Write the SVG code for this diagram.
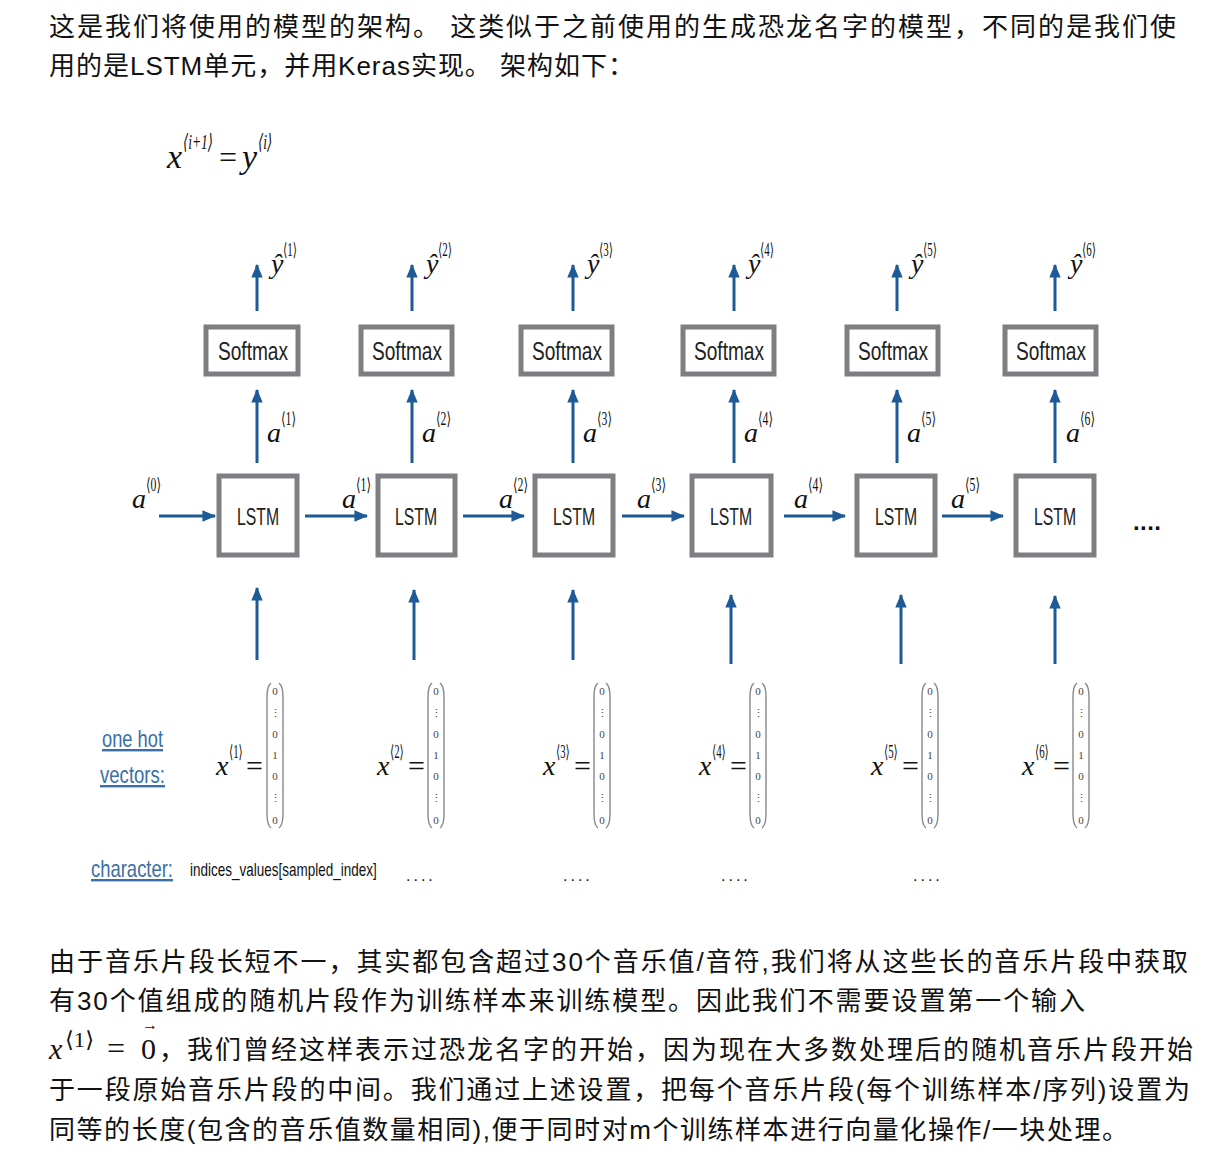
<svg xmlns="http://www.w3.org/2000/svg" width="1212" height="1166" viewBox="0 0 1212 1166">
<defs>
<marker id="ah" viewBox="0 0 12 10" refX="11" refY="5" markerWidth="4.6" markerHeight="3.8" orient="auto" markerUnits="strokeWidth">
<path d="M0,0 L12,5 L0,10 z" fill="#1d5a96"/>
</marker>
</defs>
<style>
.cn{font-family:"Liberation Sans","Noto Sans CJK SC",sans-serif;font-size:26px;fill:#111}
.box{fill:#fff;stroke:#7d7f82;stroke-width:5}
.lbl{font-family:"Liberation Sans",sans-serif;fill:#222}
.m{font-family:"Liberation Serif","DejaVu Serif",serif;font-style:italic;fill:#111}
.sup{font-family:"Liberation Serif","DejaVu Serif",serif;font-style:normal;fill:#111}
.ar{stroke:#1d5a96;stroke-width:3;fill:none;marker-end:url(#ah)}
.link{font-family:"Liberation Sans",sans-serif;fill:#3a6fa8;text-decoration:underline}
.vec{font-family:"Liberation Serif",serif;font-size:11px;fill:#444;text-anchor:middle}
.par{fill:none;stroke:#888;stroke-width:1.4}
</style>
<rect width="1212" height="1166" fill="#fff"/>

<text class="cn" x="49" y="36" textLength="1127" lengthAdjust="spacing">这是我们将使用的模型的架构。 这类似于之前使用的生成恐龙名字的模型，不同的是我们使</text>
<text class="cn" x="49" y="75" textLength="585" lengthAdjust="spacing">用的是LSTM单元，并用Keras实现。 架构如下：</text>

<g id="formula">
<text class="m" x="167" y="168" font-size="34">x</text>
<text class="m" transform="translate(183,149) scale(0.64,1)" x="0" y="0" font-size="21">⟨i+1⟩</text>
<text class="sup" x="219" y="168" font-size="32">=</text>
<text class="m" x="242" y="168" font-size="34">y</text>
<text class="m" transform="translate(258,149) scale(0.64,1)" x="0" y="0" font-size="21">⟨i⟩</text>
</g>

<g id="connectors">
<line class="ar" x1="257" y1="311" x2="257" y2="265"/>
<line class="ar" x1="412" y1="311" x2="412" y2="265"/>
<line class="ar" x1="573" y1="311" x2="573" y2="265"/>
<line class="ar" x1="734" y1="311" x2="734" y2="265"/>
<line class="ar" x1="897" y1="311" x2="897" y2="265"/>
<line class="ar" x1="1055" y1="311" x2="1055" y2="265"/>
<line class="ar" x1="257" y1="463" x2="257" y2="390"/>
<line class="ar" x1="412" y1="463" x2="412" y2="390"/>
<line class="ar" x1="573" y1="463" x2="573" y2="390"/>
<line class="ar" x1="734" y1="463" x2="734" y2="390"/>
<line class="ar" x1="897" y1="463" x2="897" y2="390"/>
<line class="ar" x1="1055" y1="463" x2="1055" y2="390"/>
<line class="ar" x1="257" y1="660" x2="257" y2="588"/>
<line class="ar" x1="414" y1="660" x2="414" y2="590"/>
<line class="ar" x1="573" y1="660" x2="573" y2="590"/>
<line class="ar" x1="731" y1="664" x2="731" y2="595"/>
<line class="ar" x1="901" y1="664" x2="901" y2="595"/>
<line class="ar" x1="1055" y1="664" x2="1055" y2="596"/>
<line class="ar" x1="159" y1="516" x2="215" y2="516"/>
<line class="ar" x1="305" y1="516" x2="367" y2="516"/>
<line class="ar" x1="463" y1="516" x2="524" y2="516"/>
<line class="ar" x1="622" y1="516" x2="684" y2="516"/>
<line class="ar" x1="784" y1="516" x2="845" y2="516"/>
<line class="ar" x1="942" y1="516" x2="1003" y2="516"/>
</g>

<g id="yhat-labels">
<text class="m" x="271" y="273" font-size="28">ŷ</text><text class="sup" x="283" y="256" font-size="18" textLength="14" lengthAdjust="spacingAndGlyphs">⟨1⟩</text>
<text class="m" x="426" y="273" font-size="28">ŷ</text><text class="sup" x="438" y="256" font-size="18" textLength="14" lengthAdjust="spacingAndGlyphs">⟨2⟩</text>
<text class="m" x="587" y="273" font-size="28">ŷ</text><text class="sup" x="599" y="256" font-size="18" textLength="14" lengthAdjust="spacingAndGlyphs">⟨3⟩</text>
<text class="m" x="748" y="273" font-size="28">ŷ</text><text class="sup" x="760" y="256" font-size="18" textLength="14" lengthAdjust="spacingAndGlyphs">⟨4⟩</text>
<text class="m" x="911" y="273" font-size="28">ŷ</text><text class="sup" x="923" y="256" font-size="18" textLength="14" lengthAdjust="spacingAndGlyphs">⟨5⟩</text>
<text class="m" x="1070" y="273" font-size="28">ŷ</text><text class="sup" x="1082" y="256" font-size="18" textLength="14" lengthAdjust="spacingAndGlyphs">⟨6⟩</text>
</g>

<g id="a-labels">
<text class="m" x="267" y="442" font-size="28">a</text><text class="sup" x="281" y="425" font-size="18" textLength="15" lengthAdjust="spacingAndGlyphs">⟨1⟩</text>
<text class="m" x="422" y="442" font-size="28">a</text><text class="sup" x="436" y="425" font-size="18" textLength="15" lengthAdjust="spacingAndGlyphs">⟨2⟩</text>
<text class="m" x="583" y="442" font-size="28">a</text><text class="sup" x="597" y="425" font-size="18" textLength="15" lengthAdjust="spacingAndGlyphs">⟨3⟩</text>
<text class="m" x="744" y="442" font-size="28">a</text><text class="sup" x="758" y="425" font-size="18" textLength="15" lengthAdjust="spacingAndGlyphs">⟨4⟩</text>
<text class="m" x="907" y="442" font-size="28">a</text><text class="sup" x="921" y="425" font-size="18" textLength="15" lengthAdjust="spacingAndGlyphs">⟨5⟩</text>
<text class="m" x="1066" y="442" font-size="28">a</text><text class="sup" x="1080" y="425" font-size="18" textLength="15" lengthAdjust="spacingAndGlyphs">⟨6⟩</text>
<text class="m" x="132" y="508" font-size="28">a</text><text class="sup" x="146" y="491" font-size="18" textLength="15" lengthAdjust="spacingAndGlyphs">⟨0⟩</text>
<text class="m" x="342" y="508" font-size="28">a</text><text class="sup" x="356" y="491" font-size="18" textLength="15" lengthAdjust="spacingAndGlyphs">⟨1⟩</text>
<text class="m" x="499" y="508" font-size="28">a</text><text class="sup" x="513" y="491" font-size="18" textLength="15" lengthAdjust="spacingAndGlyphs">⟨2⟩</text>
<text class="m" x="637" y="508" font-size="28">a</text><text class="sup" x="651" y="491" font-size="18" textLength="15" lengthAdjust="spacingAndGlyphs">⟨3⟩</text>
<text class="m" x="794" y="508" font-size="28">a</text><text class="sup" x="808" y="491" font-size="18" textLength="15" lengthAdjust="spacingAndGlyphs">⟨4⟩</text>
<text class="m" x="951" y="508" font-size="28">a</text><text class="sup" x="965" y="491" font-size="18" textLength="15" lengthAdjust="spacingAndGlyphs">⟨5⟩</text>
</g>

<g id="softmax1"><rect class="box" x="206" y="327" width="92" height="47"/><text class="lbl" x="218" y="360" font-size="26" textLength="70" lengthAdjust="spacingAndGlyphs">Softmax</text></g>
<g id="softmax2"><rect class="box" x="361" y="327" width="91" height="47"/><text class="lbl" x="372" y="360" font-size="26" textLength="70" lengthAdjust="spacingAndGlyphs">Softmax</text></g>
<g id="softmax3"><rect class="box" x="521" y="327" width="91" height="47"/><text class="lbl" x="532" y="360" font-size="26" textLength="70" lengthAdjust="spacingAndGlyphs">Softmax</text></g>
<g id="softmax4"><rect class="box" x="683" y="327" width="91" height="47"/><text class="lbl" x="694" y="360" font-size="26" textLength="70" lengthAdjust="spacingAndGlyphs">Softmax</text></g>
<g id="softmax5"><rect class="box" x="847" y="327" width="91" height="47"/><text class="lbl" x="858" y="360" font-size="26" textLength="70" lengthAdjust="spacingAndGlyphs">Softmax</text></g>
<g id="softmax6"><rect class="box" x="1005" y="327" width="91" height="47"/><text class="lbl" x="1016" y="360" font-size="26" textLength="70" lengthAdjust="spacingAndGlyphs">Softmax</text></g>

<g id="lstm1"><rect class="box" x="219" y="476" width="78" height="79"/><text class="lbl" x="237" y="525" font-size="24" textLength="42" lengthAdjust="spacingAndGlyphs">LSTM</text></g>
<g id="lstm2"><rect class="box" x="378" y="476" width="77" height="79"/><text class="lbl" x="395" y="525" font-size="24" textLength="42" lengthAdjust="spacingAndGlyphs">LSTM</text></g>
<g id="lstm3"><rect class="box" x="535" y="476" width="78" height="79"/><text class="lbl" x="553" y="525" font-size="24" textLength="42" lengthAdjust="spacingAndGlyphs">LSTM</text></g>
<g id="lstm4"><rect class="box" x="692" y="476" width="79" height="79"/><text class="lbl" x="710" y="525" font-size="24" textLength="42" lengthAdjust="spacingAndGlyphs">LSTM</text></g>
<g id="lstm5"><rect class="box" x="857" y="476" width="78" height="79"/><text class="lbl" x="875" y="525" font-size="24" textLength="42" lengthAdjust="spacingAndGlyphs">LSTM</text></g>
<g id="lstm6"><rect class="box" x="1016" y="476" width="78" height="79"/><text class="lbl" x="1034" y="525" font-size="24" textLength="42" lengthAdjust="spacingAndGlyphs">LSTM</text></g>

<text x="1133" y="530" font-family="Liberation Sans,sans-serif" font-size="24" font-weight="bold" fill="#111" textLength="28" lengthAdjust="spacing">....</text>

<g id="labels-left">
<text class="link" x="102" y="747" font-size="24" textLength="61" lengthAdjust="spacingAndGlyphs">one hot</text>
<text class="link" x="100" y="783" font-size="24" textLength="65" lengthAdjust="spacingAndGlyphs">vectors:</text>
<text class="link" x="91" y="877" font-size="24" textLength="82" lengthAdjust="spacingAndGlyphs">character:</text>
<text transform="translate(190,876) scale(0.75,1)" x="0" y="0" font-family="Liberation Sans,sans-serif" font-size="18" fill="#111">indices_values[sampled_index]</text>
<text x="406" y="881" font-family="Liberation Sans,sans-serif" font-size="16" fill="#111" letter-spacing="3">....</text>
<text x="563" y="881" font-family="Liberation Sans,sans-serif" font-size="16" fill="#111" letter-spacing="3">....</text>
<text x="721" y="881" font-family="Liberation Sans,sans-serif" font-size="16" fill="#111" letter-spacing="3">....</text>
<text x="913" y="881" font-family="Liberation Sans,sans-serif" font-size="16" fill="#111" letter-spacing="3">....</text>
</g>

<defs>
<g id="vecbody">
<path class="par" d="M-4,0 Q-8,3 -8,14 L-8,131 Q-8,142 -4,145"/>
<path class="par" d="M4,0 Q8,3 8,14 L8,131 Q8,142 4,145"/>
<text class="vec" x="0" y="12">0</text>
<text class="vec" x="0" y="34">⋮</text>
<text class="vec" x="0" y="55">0</text>
<text class="vec" x="0" y="76">1</text>
<text class="vec" x="0" y="97">0</text>
<text class="vec" x="0" y="119">⋮</text>
<text class="vec" x="0" y="141">0</text>
</g>
</defs>

<g id="x1"><text class="m" x="216" y="775" font-size="28">x</text><text class="sup" transform="translate(229,758) scale(0.6,1)" x="0" y="0" font-size="18">⟨1⟩</text><text class="sup" x="246" y="776" font-size="30">=</text><use href="#vecbody" x="275" y="683"/></g>
<g id="x2"><text class="m" x="377" y="775" font-size="28">x</text><text class="sup" transform="translate(390,758) scale(0.6,1)" x="0" y="0" font-size="18">⟨2⟩</text><text class="sup" x="408" y="776" font-size="30">=</text><use href="#vecbody" x="436" y="683"/></g>
<g id="x3"><text class="m" x="543" y="775" font-size="28">x</text><text class="sup" transform="translate(556,758) scale(0.6,1)" x="0" y="0" font-size="18">⟨3⟩</text><text class="sup" x="574" y="776" font-size="30">=</text><use href="#vecbody" x="602" y="683"/></g>
<g id="x4"><text class="m" x="699" y="775" font-size="28">x</text><text class="sup" transform="translate(712,758) scale(0.6,1)" x="0" y="0" font-size="18">⟨4⟩</text><text class="sup" x="730" y="776" font-size="30">=</text><use href="#vecbody" x="758" y="683"/></g>
<g id="x5"><text class="m" x="871" y="775" font-size="28">x</text><text class="sup" transform="translate(884,758) scale(0.6,1)" x="0" y="0" font-size="18">⟨5⟩</text><text class="sup" x="902" y="776" font-size="30">=</text><use href="#vecbody" x="930" y="683"/></g>
<g id="x6"><text class="m" x="1022" y="775" font-size="28">x</text><text class="sup" transform="translate(1035,758) scale(0.6,1)" x="0" y="0" font-size="18">⟨6⟩</text><text class="sup" x="1053" y="776" font-size="30">=</text><use href="#vecbody" x="1081" y="683"/></g>

<text class="cn" x="49" y="971" textLength="1139" lengthAdjust="spacing">由于音乐片段长短不一，其实都包含超过30个音乐值/音符,我们将从这些长的音乐片段中获取</text>
<text class="cn" x="49" y="1010" textLength="1036" lengthAdjust="spacing">有30个值组成的随机片段作为训练样本来训练模型。因此我们不需要设置第一个输入</text>
<g id="bottom-math">
<text class="m" x="49" y="1059" font-size="30">x</text>
<text class="sup" x="65" y="1047" font-size="22" textLength="29" lengthAdjust="spacingAndGlyphs">⟨1⟩</text>
<text class="sup" x="107" y="1059" font-size="32">=</text>
<text class="sup" x="141" y="1059" font-size="30">0</text>
<text class="sup" x="142" y="1030" font-size="16">→</text>
</g>
<text class="cn" x="159" y="1059" textLength="1034" lengthAdjust="spacing">，我们曾经这样表示过恐龙名字的开始，因为现在大多数处理后的随机音乐片段开始</text>
<text class="cn" x="49" y="1099" textLength="1141" lengthAdjust="spacing">于一段原始音乐片段的中间。我们通过上述设置，把每个音乐片段(每个训练样本/序列)设置为</text>
<text class="cn" x="49" y="1139" textLength="1079" lengthAdjust="spacing">同等的长度(包含的音乐值数量相同),便于同时对m个训练样本进行向量化操作/一块处理。</text>
</svg>
